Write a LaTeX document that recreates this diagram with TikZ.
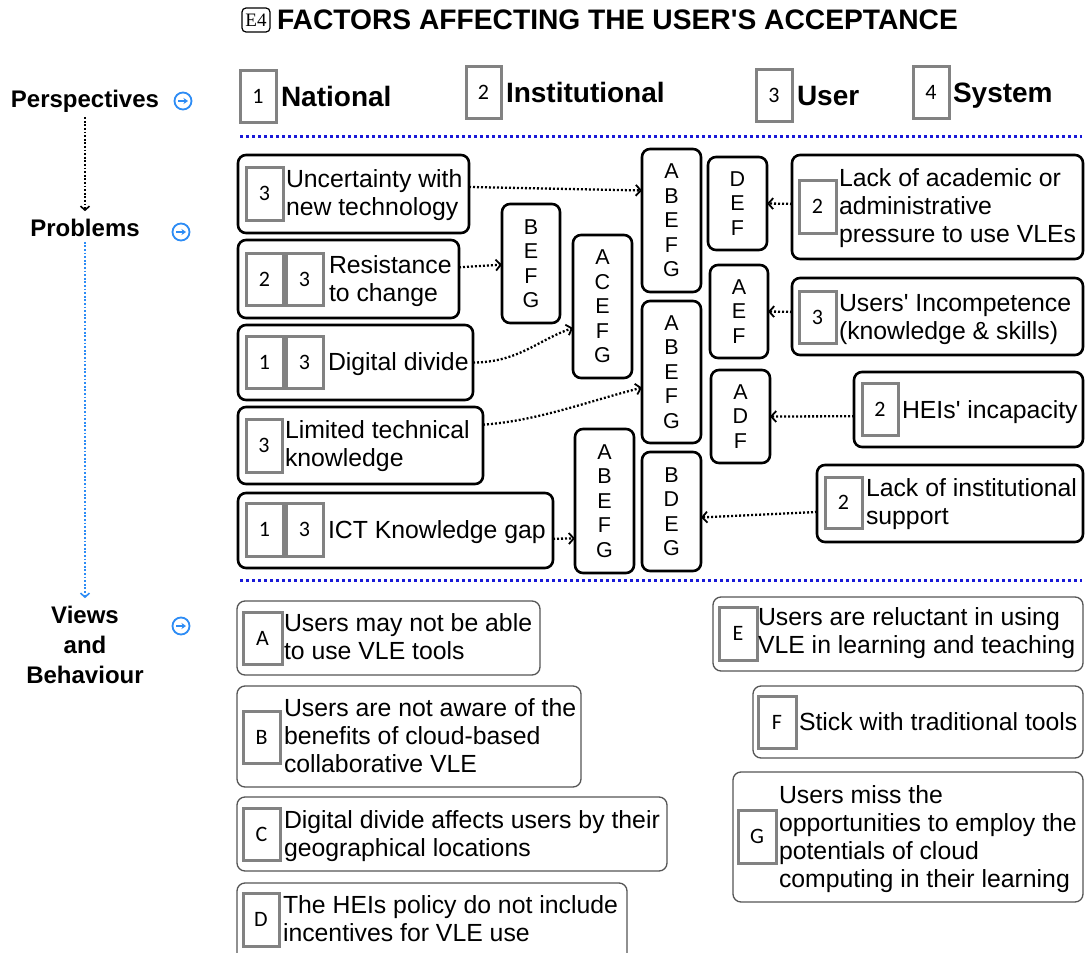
\documentclass[tikz,border=0pt]{standalone}
\usepackage{fontspec}
\setmainfont{Liberation Sans}
\newfontfamily\tagfont{Carlito}
\newfontfamily\serifont{Liberation Serif}
\usetikzlibrary{arrows.meta,calc}
\definecolor{sepblue}{RGB}{25,25,215}
\definecolor{iconblue}{RGB}{45,140,245}
\definecolor{taggray}{RGB}{130,130,130}
\definecolor{viewgray}{RGB}{85,85,85}
\newcommand\aq{\textquotesingle}
% box node given by its top-left and bottom-right corners
\newcommand\boxnode[7]{\node[#6, minimum width={#4-#2}, minimum height={#5-#3}, anchor=north west] (#1) at (#2,#3) {#7};}

\begin{document}
\begin{tikzpicture}[x=1pt,y=-1pt,
  every node/.style={inner sep=0pt, outer sep=0pt},
  prob/.style={draw=black, line width=2.6pt, rounded corners=8pt, fill=white},
  lbox/.style={prob, align=center, font=\fontsize{21.5}{24.5}\selectfont},
  tag/.style={draw=taggray, line width=3pt, fill=white, font=\tagfont\fontsize{22}{24}\selectfont},
  view/.style={draw=viewgray, line width=1.3pt, rounded corners=8pt, fill=white},
  txt/.style={align=left, anchor=north west, font=\fontsize{24.8}{28}\selectfont},
  side/.style={align=center, font=\bfseries\fontsize{24}{30}\selectfont},
  persp/.style={anchor=base west, font=\bfseries\fontsize{28}{30}\selectfont},
  icon/.style={circle, draw=iconblue, line width=1.8pt, minimum size=17pt},
  iconarrow/.style={draw=iconblue, line width=1.6pt, -{Stealth[length=4.5pt,width=6pt]}},
  link/.style={draw=black, line width=2.3pt, dash pattern=on 2pt off 2pt,
    -{Straight Barb[length=5pt,width=11pt,line width=1.8pt]}},
  sep/.style={draw=sepblue, line width=3pt, dash pattern=on 3pt off 3pt},
]
\clip (0,0) rectangle (1085,953);
\fill[white] (0,0) rectangle (1085,953);

% ---------- title ----------
\node[draw, line width=1.2pt, rounded corners=4pt, minimum width=28pt, minimum height=24pt,
      font=\serifont\fontsize{19}{20}\selectfont] (e4) at (256,20) {E4};
\node[anchor=base west, font=\bfseries\fontsize{28.2}{30}\selectfont] (title) at (277,30)
  {FACTORS AFFECTING THE USER\aq S ACCEPTANCE};

% ---------- perspectives ----------
\boxnode{t1}{240}{70}{276}{122}{tag}{1}
\node[persp] (natl) at (281,106) {National};
\boxnode{t2}{466}{66}{501}{118}{tag}{2}
\node[persp] (inst) at (506,102) {Institutional};
\boxnode{t3}{756}{69}{792}{121}{tag}{3}
\node[persp] (user) at (797,105) {User};
\boxnode{t4}{913}{66}{949}{118}{tag}{4}
\node[persp] (syst) at (953,102) {System};

% ---------- separators ----------
\coordinate (s1a) at (240,136); \coordinate (s1b) at (1082,136);
\coordinate (s2a) at (240,580); \coordinate (s2b) at (1082,580);
\draw[sep] (s1a) -- (s1b);
\draw[sep] (s2a) -- (s2b);

% ---------- left column ----------
\node[side] (persp) at (85,101) {Perspectives};
\node[side] (probl) at (85,228) {Problems};
\node[side] (views) at (85,645) {Views\\and\\Behaviour};
\draw[black, line width=2.2pt, dash pattern=on 1.8pt off 1.8pt,
      -{Straight Barb[length=4pt,width=9pt,line width=1.6pt]},
      shorten <=5pt, shorten >=8pt] (persp.south) -- (probl.north);
\draw[iconblue, line width=2.2pt, dash pattern=on 1.8pt off 1.8pt,
      -{Straight Barb[length=4pt,width=9pt,line width=1.6pt]},
      shorten <=5pt, shorten >=8pt] (probl.south) -- (views.north);
\foreach \n/\x/\y in {ip/183/101, iq/181/232, iv/181/626}{
  \node[icon] (\n) at (\x,\y) {};
  \draw[iconarrow] ([xshift=-5pt]\n.center) -- ([xshift=5pt]\n.center);
}

% ---------- problems (left) ----------
\boxnode{p1}{238}{155}{469}{233}{prob}{}
\boxnode{p1a}{246}{167}{283}{220}{tag}{3}
\node[txt] (p1t) at (286,170) {Uncertainty with\\new technology};

\boxnode{p2}{238}{240}{459}{318}{prob}{}
\boxnode{p2a}{246}{253}{283}{305}{tag}{2}
\boxnode{p2b}{286}{253}{323}{305}{tag}{3}
\node[txt] (p2t) at (329,256) {Resistance\\to change};

\boxnode{p3}{238}{325}{473}{400}{prob}{}
\boxnode{p3a}{246}{336}{283}{388}{tag}{1}
\boxnode{p3b}{286}{336}{323}{388}{tag}{3}
\node[txt] (p3t) at (328,353) {Digital divide};

\boxnode{p4}{238}{407}{483}{484}{prob}{}
\boxnode{p4a}{246}{419}{282}{472}{tag}{3}
\node[txt] (p4t) at (285,421) {Limited technical\\knowledge};

\boxnode{p5}{238}{493}{553}{568}{prob}{}
\boxnode{p5a}{246}{503}{283}{556}{tag}{1}
\boxnode{p5b}{286}{503}{323}{556}{tag}{3}
\node[txt] (p5t) at (328,521) {ICT Knowledge gap};

% ---------- problems (right) ----------
\boxnode{p6}{792}{155}{1083}{259}{prob}{}
\boxnode{p6a}{799}{180}{836}{233}{tag}{2}
\node[txt] (p6t) at (839,169) {Lack of academic or\\administrative\\pressure to use VLEs};

\boxnode{p7}{792}{278}{1083}{355}{prob}{}
\boxnode{p7a}{799}{291}{836}{343}{tag}{3}
\node[txt] (p7t) at (839,294) {Users\aq\ Incompetence\\(knowledge \& skills)};

\boxnode{p8}{854}{372}{1083}{447}{prob}{}
\boxnode{p8a}{862}{383}{898}{435}{tag}{2}
\node[txt] (p8t) at (902,401) {HEIs\aq\ incapacity};

\boxnode{p9}{817}{465}{1083}{542}{prob}{}
\boxnode{p9a}{825}{477}{862}{528}{tag}{2}
\node[txt] (p9t) at (866,479) {Lack of institutional\\support};

% ---------- letter groups ----------
\boxnode{l1}{502}{204}{560}{323}{lbox}{B\\E\\F\\G}
\boxnode{l2}{573}{235}{632}{378}{lbox}{A\\C\\E\\F\\G}
\boxnode{l3}{642}{149}{701}{292}{lbox}{A\\B\\E\\F\\G}
\boxnode{l4}{708}{157}{767}{250}{lbox}{D\\E\\F}
\boxnode{l5}{710}{265}{768}{358}{lbox}{A\\E\\F}
\boxnode{l6}{642}{301}{701}{443}{lbox}{A\\B\\E\\F\\G}
\boxnode{l7}{711}{370}{770}{463}{lbox}{A\\D\\F}
\boxnode{l8}{575}{429}{634}{573}{lbox}{A\\B\\E\\F\\G}
\boxnode{l9}{642}{452}{701}{571}{lbox}{B\\D\\E\\G}

% ---------- links ----------
\draw[link] ($(p1.north east)!0.41!(p1.south east)$) -- ($(l3.north west)!0.29!(l3.south west)$);
\draw[link] ($(p2.north east)!0.35!(p2.south east)$) -- ($(l1.north west)!0.51!(l1.south west)$);
\draw[link] (p3.east) .. controls +(45,0) and +(-35,12) .. ($(l2.north west)!0.65!(l2.south west)$);
\draw[link] ($(p4.north east)!0.23!(p4.south east)$) .. controls +(55,-4) and +(-55,14) .. ($(l6.north west)!0.61!(l6.south west)$);
\draw[link] ($(p5.north east)!0.61!(p5.south east)$) -- ($(l8.north west)!0.76!(l8.south west)$);
\draw[link] ($(p6.north west)!0.47!(p6.south west)$) -- (l4.east);
\draw[link] ($(p7.north west)!0.44!(p7.south west)$) -- (l5.east);
\draw[link] ($(p8.north west)!0.59!(p8.south west)$) -- (l7.east);
\draw[link] ($(p9.north west)!0.61!(p9.south west)$) -- ($(l9.north east)!0.55!(l9.south east)$);

% ---------- views and behaviour ----------
\boxnode{vA}{237}{601}{540}{675}{view}{}
\boxnode{vAt}{243}{612}{282}{664}{tag}{A}
\node[txt] (vAx) at (284,614) {Users may not be able\\to use VLE tools};

\boxnode{vB}{237}{686}{581}{787}{view}{}
\boxnode{vBt}{243}{711}{280}{763}{tag}{B}
\node[txt] (vBx) at (284,699) {Users are not aware of the\\benefits of cloud-based\\collaborative VLE};

\boxnode{vC}{237}{797}{667}{871}{view}{}
\boxnode{vCt}{243}{808}{280}{860}{tag}{C}
\node[txt] (vCx) at (284,811) {Digital divide affects users by their\\geographical locations};

\boxnode{vD}{237}{883}{627}{962}{view}{}
\boxnode{vDt}{243}{893}{279}{946}{tag}{D}
\node[txt] (vDx) at (283,896) {The HEIs policy do not include\\incentives for VLE use};

\boxnode{vE}{713}{597}{1083}{671}{view}{}
\boxnode{vEt}{719}{607}{757}{660}{tag}{E}
\node[txt] (vEx) at (758,608) {Users are reluctant in using\\VLE in learning and teaching};

\boxnode{vF}{753}{686}{1083}{758}{view}{}
\boxnode{vFt}{758}{696}{796}{748}{tag}{F}
\node[txt] (vFx) at (799,713) {Stick with traditional tools};

\boxnode{vG}{733}{772}{1083}{902}{view}{}
\boxnode{vGt}{738}{810}{776}{863}{tag}{G}
\node[txt] (vGx) at (779,786) {Users miss the\\opportunities to employ the\\potentials of cloud\\computing in their learning};
\end{tikzpicture}
\end{document}
